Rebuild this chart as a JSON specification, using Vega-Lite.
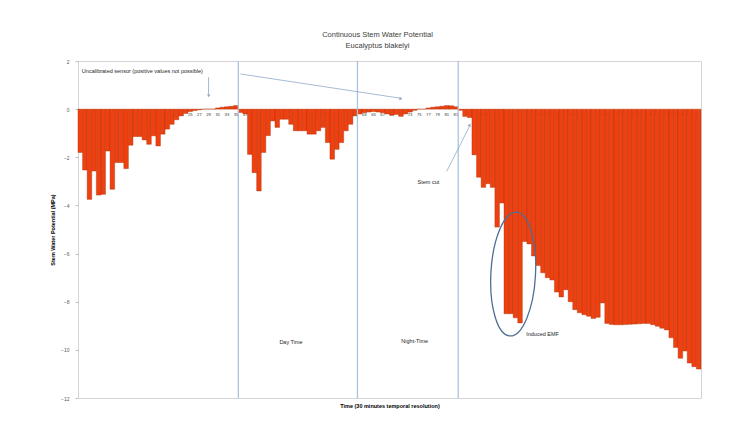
{
  "$schema": "https://vega.github.io/schema/vega-lite/v6.json",
  "width": 623,
  "height": 337,
  "autosize": {"type": "none"},
  "padding": {"left": 78, "top": 61, "right": 41, "bottom": 25},
  "background": "white",
  "title": {
    "text": "Continuous Stem Water Potential",
    "subtitle": "Eucalyptus blakelyi",
    "font": "Liberation Sans",
    "subtitleFont": "Liberation Sans",
    "fontSize": 7.5,
    "subtitleFontSize": 7.5,
    "fontWeight": "normal",
    "color": "#404040",
    "subtitleColor": "#404040",
    "anchor": "middle",
    "offset": 10,
    "dx": -12,
    "subtitlePadding": 3
  },
  "config": {"view": {"stroke": "#D4D4D4", "strokeWidth": 1}, "font": "Liberation Sans"},
  "layer": [
    {
      "data": {"values": [
        {"t":1,"v":-1.8},{"t":2,"v":-2.53},{"t":3,"v":-3.75},{"t":4,"v":-2.57},{"t":5,"v":-3.57},{"t":6,"v":-3.54},{"t":7,"v":-1.74},{"t":8,"v":-3.33},{"t":9,"v":-2.22},{"t":10,"v":-2.22},
        {"t":11,"v":-2.47},{"t":12,"v":-1.5},{"t":13,"v":-1.14},{"t":14,"v":-1.14},{"t":15,"v":-1.28},{"t":16,"v":-1.46},{"t":17,"v":-1.11},{"t":18,"v":-1.53},{"t":19,"v":-1.04},{"t":20,"v":-0.83},
        {"t":21,"v":-0.63},{"t":22,"v":-0.44},{"t":23,"v":-0.28},{"t":24,"v":-0.18},{"t":25,"v":-0.1},{"t":26,"v":-0.06},{"t":27,"v":-0.03},{"t":28,"v":0},{"t":29,"v":0},{"t":30,"v":0},
        {"t":31,"v":0.05},{"t":32,"v":0.08},{"t":33,"v":0.1},{"t":34,"v":0.12},{"t":35,"v":0.15},{"t":36,"v":-0.14},{"t":37,"v":-0.2},{"t":38,"v":-1.88},{"t":39,"v":-2.64},{"t":40,"v":-3.4},
        {"t":41,"v":-1.8},{"t":42,"v":-1.1},{"t":43,"v":-0.49},{"t":44,"v":-0.76},{"t":45,"v":-0.42},{"t":46,"v":-0.42},{"t":47,"v":-0.63},{"t":48,"v":-0.9},{"t":49,"v":-0.9},{"t":50,"v":-0.9},
        {"t":51,"v":-1.04},{"t":52,"v":-1.04},{"t":53,"v":-0.9},{"t":54,"v":-0.76},{"t":55,"v":-1.39},{"t":56,"v":-2.08},{"t":57,"v":-1.67},{"t":58,"v":-1.39},{"t":59,"v":-0.9},{"t":60,"v":-0.63},
        {"t":61,"v":-0.28},{"t":62,"v":-0.2},{"t":63,"v":-0.15},{"t":64,"v":-0.12},{"t":65,"v":-0.1},{"t":66,"v":-0.12},{"t":67,"v":-0.15},{"t":68,"v":-0.2},{"t":69,"v":-0.25},{"t":70,"v":-0.22},
        {"t":71,"v":-0.3},{"t":72,"v":-0.2},{"t":73,"v":-0.12},{"t":74,"v":-0.05},{"t":75,"v":0},{"t":76,"v":0},{"t":77,"v":0.05},{"t":78,"v":0.08},{"t":79,"v":0.1},{"t":80,"v":0.12},
        {"t":81,"v":0.15},{"t":82,"v":0.14},{"t":83,"v":0.1},{"t":84,"v":-0.05},{"t":85,"v":-0.3},{"t":86,"v":-0.35},{"t":87,"v":-1.9},{"t":88,"v":-2.83},{"t":89,"v":-3.25},{"t":90,"v":-3.1},
        {"t":91,"v":-3.25},{"t":92,"v":-4.9},{"t":93,"v":-3.9},{"t":94,"v":-8.5},{"t":95,"v":-8.5},{"t":96,"v":-8.67},{"t":97,"v":-8.88},{"t":98,"v":-5.5},{"t":99,"v":-5.6},{"t":100,"v":-6.1},
        {"t":101,"v":-6.5},{"t":102,"v":-6.8},{"t":103,"v":-7.0},{"t":104,"v":-7.1},{"t":105,"v":-7.6},{"t":106,"v":-7.8},{"t":107,"v":-7.5},{"t":108,"v":-8.0},{"t":109,"v":-8.33},{"t":110,"v":-8.46},
        {"t":111,"v":-8.54},{"t":112,"v":-8.6},{"t":113,"v":-8.7},{"t":114,"v":-8.65},{"t":115,"v":-8.05},{"t":116,"v":-8.9},{"t":117,"v":-8.95},{"t":118,"v":-8.96},{"t":119,"v":-8.96},{"t":120,"v":-8.95},
        {"t":121,"v":-8.94},{"t":122,"v":-8.93},{"t":123,"v":-8.92},{"t":124,"v":-8.9},{"t":125,"v":-8.9},{"t":126,"v":-8.96},{"t":127,"v":-9.02},{"t":128,"v":-9.1},{"t":129,"v":-9.17},{"t":130,"v":-9.5},
        {"t":131,"v":-9.9},{"t":132,"v":-10.35},{"t":133,"v":-10.05},{"t":134,"v":-10.55},{"t":135,"v":-10.7},{"t":136,"v":-10.8}
      ]},
      "mark": {"type": "bar", "color": "#EE4010", "stroke": "#A83008", "strokeWidth": 0.4},
      "encoding": {
        "x": {
          "field": "t", "type": "ordinal",
          "scale": {"paddingInner": 0, "paddingOuter": 0},
          "axis": {
            "title": "Time (30 minutes temporal resolution)",
            "titleFontSize": 5.5, "titleFontWeight": "bold", "titleColor": "#000000",
            "titlePadding": 287, "offset": -289, "domain": false, "ticks": false,
            "labelAngle": 0, "labelFontSize": 4.2, "labelColor": "#333333", "labelPadding": 3,
            "labelOverlap": false, "labelExpr": "datum.value % 2 == 1 ? datum.label : ''", "grid": false
          }
        },
        "y": {
          "field": "v", "type": "quantitative",
          "scale": {"domain": [-12, 2], "nice": false},
          "axis": {
            "title": "Stem Water Potential (MPa)", "values": [2, 0, -2, -4, -6, -8, -10, -12],
            "grid": false, "domain": false, "tickSize": 3, "tickColor": "#BFBFBF",
            "labelFontSize": 5, "labelColor": "#595959", "labelPadding": 6,
            "titleFontSize": 5.5, "titleFontWeight": "bold", "titlePadding": 5, "titleColor": "#000000"
          }
        }
      }
    },
    {
      "data": {"values": [{"t": 36}, {"t": 62}, {"t": 84}]},
      "mark": {"type": "rule", "color": "#A9C3DD", "strokeWidth": 1.3},
      "encoding": {"x": {"field": "t", "type": "ordinal", "bandPosition": 0}}
    },
    {
      "data": {"values": [
        {"t": 29, "t2": 29, "v": 1.33, "v2": 0.6},
        {"t": 36, "t2": 71, "v": 1.46, "v2": 0.45},
        {"t": 81, "t2": 86, "v": -2.58, "v2": -0.7}
      ]},
      "mark": {"type": "rule", "color": "#8EA9C8", "strokeWidth": 0.8},
      "encoding": {
        "x": {"field": "t", "type": "ordinal"},
        "x2": {"field": "t2"},
        "y": {"field": "v", "type": "quantitative"},
        "y2": {"field": "v2"}
      }
    },
    {
      "data": {"values": [{"t": 29, "v": 0.55}]},
      "mark": {"type": "point", "shape": "triangle-down", "angle": 12, "filled": true, "size": 12, "color": "#8EA9C8", "opacity": 1},
      "encoding": {"x": {"field": "t", "type": "ordinal"}, "y": {"field": "v", "type": "quantitative"}}
    },
    {
      "data": {"values": [{"t": 71, "v": 0.43}]},
      "mark": {"type": "point", "shape": "triangle-right", "angle": 9, "filled": true, "size": 12, "color": "#8EA9C8", "opacity": 1},
      "encoding": {"x": {"field": "t", "type": "ordinal"}, "y": {"field": "v", "type": "quantitative"}}
    },
    {
      "data": {"values": [{"t": 86, "v": -0.65}]},
      "mark": {"type": "point", "shape": "triangle-up", "angle": 26, "filled": true, "size": 12, "color": "#8EA9C8", "opacity": 1},
      "encoding": {"x": {"field": "t", "type": "ordinal"}, "y": {"field": "v", "type": "quantitative"}}
    },
    {
      "data": {"values": [{"t": 95, "v": -6.85}]},
      "mark": {"type": "point", "shape": "M0,-1A0.36,1,0,1,1,0,1A0.36,1,0,1,1,0,-1Z", "size": 15376, "filled": false, "stroke": "#4F6E94", "strokeWidth": 1.3, "angle": 3, "opacity": 1},
      "encoding": {"x": {"field": "t", "type": "ordinal", "bandPosition": 1}, "y": {"field": "v", "type": "quantitative"}}
    },
    {
      "data": {"values": [
        {"t": 2, "v": 1.6, "label": "Uncalibrated sensor (positive values not possible)"},
        {"t": 99, "v": -9.33, "label": "Induced EMF"}
      ]},
      "mark": {"type": "text", "align": "left", "baseline": "middle", "fontSize": 5.5, "color": "#262626", "dx": -3},
      "encoding": {"x": {"field": "t", "type": "ordinal"}, "y": {"field": "v", "type": "quantitative"}, "text": {"field": "label"}}
    },
    {
      "data": {"values": [
        {"t": 77, "v": -3.04, "label": "Stem cut"},
        {"t": 47, "v": -9.67, "label": "Day Time"},
        {"t": 74, "v": -9.63, "label": "Night-Time"}
      ]},
      "mark": {"type": "text", "align": "center", "baseline": "middle", "fontSize": 5.5, "color": "#262626"},
      "encoding": {"x": {"field": "t", "type": "ordinal"}, "y": {"field": "v", "type": "quantitative"}, "text": {"field": "label"}}
    }
  ]
}
